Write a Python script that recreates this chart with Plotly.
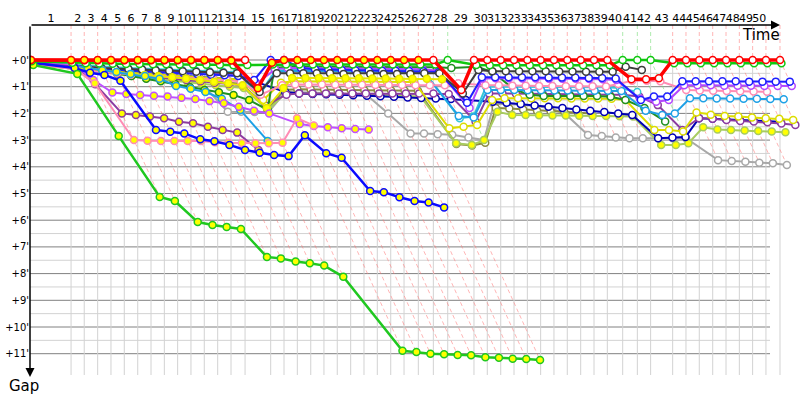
import plotly.graph_objects as go

# ---------------- data ----------------
# leader's cumulative race time (minutes) at the end of each lap 0..51
leader_time = [0.00, 3.31, 4.40, 5.51, 6.61, 7.71, 8.82, 9.92, 11.02, 12.12, 13.22, 14.32, 15.43, 16.53,
               17.69, 19.81, 20.91, 22.01, 23.12, 24.21, 25.31, 26.42, 27.52, 28.62, 29.73, 30.83, 32.01,
               33.25, 34.44, 36.61, 37.71, 38.82, 39.92, 41.02, 42.12, 43.22, 44.32, 45.43, 46.53, 47.63,
               48.90, 50.11, 51.21, 53.03, 54.13, 55.23, 56.34, 57.44, 58.54, 59.64, 60.74, 61.90]
lap_labels = [str(i) for i in range(1, 51)]
gap_ticks = [0, 1, 2, 3, 4, 5, 6, 7, 8, 9, 10, 11]
gap_tick_text = ["+0'", "+1'", "+2'", "+3'", "+4'", "+5'", "+6'", "+7'", "+8'", "+9'", "+10'", "+11'"]
N = None

# gaps (minutes) behind the leader, laps 0..51
gap_red = [0, 0,0,0,0,0,0,0,0,0,0,0,0,0.02, 1.06, 0.1, 0,0,0,0,0,0,0,0,0,0,0,0, 1.12,
           0,0,0,0,0,0,0,0,0,0,0, 0.72,0.72,0.68, 0,0,0,0,0,0,0,0,0]
gap_red2 = [0, 0.01,0.01,0.01,0.01,0.01,0.01,0.01,0.01,0.01,0.01,0.01,0.01,0, 0] + [N]*37
gap_green = [0.05, 0.1,0.12,0.13,0.14,0.15,0.15,0.16,0.16,0.17,0.17,0.18,0.18,0.2, 0.19, 0.17,
             0.17,0.17,0.17,0.17,0.17,0.17,0.17,0.17,0.17,0.17,0.17,0.17, 0, 0.19,
             0.2,0.2,0.2,0.2,0.2,0.2,0.2,0.2,0.2,0.2, 0,0,0, 0.12,0.12,0.12,0.12,0.12,0.12,0.12,0.12,0.12]
gap_black = [0.1, 0.2,0.25,0.3,0.32,0.34,0.36,0.38,0.4,0.42,0.44,0.46,0.48,0.5, 1.2, 0.5,
             0.5,0.5,0.5,0.5,0.52,0.52,0.52,0.52,0.52,0.52,0.5,0.5, 1.25, 0.37,
             0.42,0.42,0.42,0.42,0.42,0.43,0.43,0.44,0.44,0.44, 0.25, 0.37] + [N]*10
gap_blue = [0.1, 0.25,0.3,0.33,0.36,0.4,0.42,0.45,0.47,0.5,0.52,0.55,0.57,0.6, 0.75, 0, 0,
            0.3,0.35,0.36,0.37,0.38,0.39,0.4,0.4,0.41,0.42,0.45, 1.6, 0.65,
            0.65,0.65,0.65,0.65,0.66,0.66,0.66,0.67,0.67,0.69, 1.5,1.37,1.37, 0.8,
            0.8,0.8,0.8,0.8,0.81,0.81,0.81,0.81]
gap_violet = [0.1, 0.2,0.25,0.3,0.33,0.36,0.38,0.4,0.42,0.44,0.46,0.48,0.5,0.52, 0.9, 0.35,
              0.3,0.3,0.3,0.31,0.31,0.32,0.32,0.33,0.33,0.34,0.35,0.4, 1.8, 0.69,
              0.68,0.68,0.69,0.69,0.7,0.7,0.7,0.71,0.72,0.75, 1.45,1.56,1.5, 0.95,
              0.95,0.95,0.96,0.96,0.96,0.97,0.97,0.97]
gap_pink = [0.15, 0.35,0.4,0.45,0.5,0.55,0.58,0.6,0.63,0.66,0.7,0.72,0.75,0.8, 1.3, 0.95,
            0.92,0.92,0.92,0.93,0.93,0.93,0.94,0.94,0.94,0.95,0.95,0.95, 0.87, 0.95,
            0.95,0.96,0.96,0.97,0.97,0.98,0.98,0.98,0.99,0.9, 0.78,0.78,0.8,
            1.12,1.14,1.15,1.16,1.17,1.18,1.19, N, N]
gap_lightblue = [0.1, 0.22,0.27,0.3,0.33,0.36,0.39,0.42,0.45,0.48,0.5,0.53,0.55,0.58, 1.25, 0.45,
                 0.4,0.4,0.41,0.41,0.42,0.42,0.43,0.43,0.44,0.44,0.45, 2.1,2.15, 1.12,
                 1.12,1.12,1.13,1.13,1.14,1.14,1.15,1.15,1.15,1.16, 1.9,2.06,2.0, 1.43,
                 1.43,1.44,1.44,1.45,1.45,1.46,1.47, N]
gap_cyan = [0.08, 0.18,0.22,0.25,0.28,0.3,0.32,0.34,0.36,0.38,0.4,0.42,0.44,0.46, 1.24, 0.4,
            0.37,0.37,0.37,0.37,0.38,0.38,0.38,0.38,0.39,0.39,0.4, 2.18,2.12, 1.0,
            1.0,1.0,1.0,1.01,1.01,1.01,1.02,1.02,1.02,1.05, 1.2] + [N]*11
gap_yellow = [0.12, 0.3,0.35,0.4,0.44,0.48,0.52,0.55,0.58,0.61,0.64,0.67,0.7,0.73, 1.5, 0.85,
              0.8,0.8,0.8,0.8,0.81,0.81,0.81,0.81,0.82,0.82, 2.56,2.5,2.43, 1.5,
              1.43,1.43,1.43,1.43,1.43,1.44,1.44,1.44,1.45,1.5, 2.62,2.62,2.68, 1.97,
              2.05,2.1,2.12,2.15,2.18,2.2,2.25, N]
gap_purple = [0.15, 0.3,0.38,0.45,0.5,0.55,0.6,0.65,0.7,0.75,0.8,0.85,0.9,0.95, 1.7, 1.3,
              1.25,1.25,1.25,1.25,1.25,1.25,1.25,1.25,1.25,1.25,1.25, 1.27, 2.3, 1.25,
              1.25,1.26,1.26,1.27,1.27,1.28,1.28,1.29,1.3,1.3, 1.37,1.69,2.62,2.18,
              2.2,2.25,2.28,2.3,2.33,2.38,2.43, N]
gap_navy = [0.1, 0.25,0.3,0.35,0.4,0.45,0.5,0.53,0.56,0.6,0.63,0.66,0.7,0.73, 0.8, 1.2,
            1.25,1.27,1.28,1.3,1.32,1.34,1.36,1.38,1.4,1.42,1.44,1.46,1.5, 1.56,
            1.6,1.65,1.7,1.75,1.8,1.85,1.9,1.95,2.0,2.06, 2.93,2.9,2.88, 2.18,
            2.2,2.22,2.25,2.27,2.29,2.31, N, N]
gap_ygreen = [0.15, 0.35,0.42,0.48,0.54,0.6,0.66,0.72,0.78,0.84,0.9,0.95,1.0,1.05, 1.87, 1.25,
              1.25,1.26,1.27,1.28,1.3,1.31,1.32,1.33,1.35,1.37, 3.12,3.18,3.0, 1.94,
              2.06,2.06,2.07,2.08,2.08,2.09,2.1,2.1,2.11,2.12, 3.18,3.18,3.12, 2.52,
              2.6,2.62,2.64,2.66,2.68,2.71, N, N]
gap_gray = [0.15, 0.35,0.4,0.45,0.5,0.55,0.6,0.65,0.7,0.8,0.87,1.94,1.94,1.95, 1.95, 1.2,
            1.2,1.22,1.24,1.26,1.28,1.3, 2.0, 2.75,2.75,2.78,2.8,2.9,3.0, 1.65,
            1.65,1.68,1.72,1.8,2.0, 2.81,2.85,2.9,2.93,2.93,2.93,2.93,2.93,
            3.75,3.78,3.81,3.85,3.87,3.93, N, N, N]
gap_olive = [0.12, 0.3,0.35,0.4,0.45,0.5,0.55,0.6,0.65,0.7,0.75,0.8,0.85,0.9, 1.87, 1.12,
             1.1,1.1,1.1,1.12,1.12,1.13,1.13,1.14,1.14,1.15, 3.15,3.2,3.1, 1.8,
             1.82,1.85,1.9,1.92,1.95,1.97,2.0] + [N]*15
gap_dkgreen = [0.1, 0.2,0.3,0.4,0.5,0.6,0.7,0.8,0.9,1.02,1.12,1.21,1.31,1.5, 1.87, 0.3,
               0.25,0.25,0.25,0.25,0.25,0.25,0.26,0.26,0.26,0.26,0.27,0.27, 0.3, 0.25,
               0.45,1.1,1.3,1.35,1.35,1.35,1.35,1.35,1.38,1.5, 1.8,2.3] + [N]*10
gap_yyellow = [0.1, 0.25,0.3,0.38,0.45,0.52,0.56,0.6,0.65,0.69,0.75,0.81,0.87,0.95, 1.8, 1.05,
               0.67,0.67,0.67,0.68,0.68,0.68,0.69,0.69,0.7,0.7,0.7,0.72] + [N]*24
gap_lapped = [0.19, 0.52,2.85,5.13,5.28,6.07,6.18,6.25,6.33,7.38,7.43,7.55,7.61,7.70, 8.12,
              10.89,10.94,11.0,11.02,11.05,11.06,11.13,11.15,11.19,11.2,11.24] + [N]*26
gap_blue2 = [0.1, 0.3,0.48,0.56,0.78,2.62,2.69,2.75,2.97,3.04,3.18,3.37,3.47,3.56, 3.6, 2.82,
             3.49,3.66,4.91,4.95,5.14,5.28,5.34,5.52] + [N]*28
gap_pink2 = [0.15, 0.34,0.87,3.0,3.02,3.03,3.03,3.03,3.03,3.08,3.1,3.11,3.12,3.12, 3.1, 2.18,
             2.45] + [N]*35
gap_purple2 = [0.1, 0.25,0.91,2.0,2.06,2.12,2.18,2.31,2.37,2.5,2.62,2.72,3.37] + [N]*39
gap_violet2 = [0.1, 0.2,0.75,1.22,1.27,1.31,1.34,1.37,1.41,1.46,1.54,1.62,1.75,1.9, 2.0, 2.4,
               2.47,2.52,2.56,2.58,2.6] + [N]*31
gap_lightblue2 = [0.08, 0.2,0.3,0.38,0.45,0.52,0.6,0.7,0.97,1.08,1.2,1.45,1.87,3.03] + [N]*38

# ---------------- styling ----------------
# (gaps, line colour, line width, last lap with yellow-filled marker)
series = [
    (gap_gray, "#a8a8a8", 2, -1),
    (gap_olive, "#8c8c40", 2, -1),
    (gap_ygreen, "#a8cc60", 2, 99),
    (gap_navy, "#0000b4", 2, -1),
    (gap_purple, "#8c3ca0", 2, -1),
    (gap_yellow, "#dcdc00", 2, -1),
    (gap_dkgreen, "#209020", 2, 14),
    (gap_cyan, "#38c8d4", 2, -1),
    (gap_lightblue, "#1ea0e6", 2, -1),
    (gap_pink, "#ff8cb4", 2, -1),
    (gap_violet, "#b446ff", 2, -1),
    (gap_blue, "#1e1eff", 2, -1),
    (gap_black, "#3c3c3c", 2, -1),
    (gap_yyellow, "#e6e600", 2, 99),
    (gap_lightblue2, "#1ea0e6", 2, 99),
    (gap_violet2, "#c050ff", 2, 99),
    (gap_purple2, "#8c3ca0", 2, 99),
    (gap_pink2, "#ff8cb4", 2, 99),
    (gap_blue2, "#0a0aff", 2.5, 99),
    (gap_lapped, "#20c820", 2.5, 99),
    (gap_green, "#10c810", 2.5, -1),
    (gap_red2, "#ff0000", 3, -1),
    (gap_red, "#ff0000", 3.5, 26),
]

PXX = 12.1   # px per minute horizontally
PXY = 26.7   # px per minute vertically
x0_px, y0_px = 31, 60
xr = [(30 - x0_px) / PXX, (800 - x0_px) / PXX]
yr = [(400 - y0_px) / PXY, (25 - y0_px) / PXY]
x_grid_end = (770 - x0_px) / PXX
y_grid_end = (375 - y0_px) / PXY

fig = go.Figure()
shapes = []
for k in range(0, 11):
    shapes.append(dict(type="line", xref="x", yref="y", x0=xr[0], x1=x_grid_end, y0=k + 0.5, y1=k + 0.5,
                       line=dict(color="#d2d2d2", width=1), layer="below"))
for k in range(0, 12):
    shapes.append(dict(type="line", xref="x", yref="y", x0=xr[0], x1=x_grid_end, y0=k, y1=k,
                       line=dict(color="#808080", width=1), layer="below"))
for t in leader_time[1:]:
    shapes.append(dict(type="line", xref="x", yref="y", x0=t, x1=t, y0=0, y1=y_grid_end,
                       line=dict(color="#d2d2d2", width=1), layer="below"))


def leader_and_last(n):
    vals = [(s[0][n], s[1]) for s in series if n < len(s[0]) and s[0][n] is not None]
    lead = min(vals, key=lambda v: v[0])
    last = max(v[0] for v in vals)
    return lead[1], last


for n in range(1, len(leader_time)):
    lead_col, last = leader_and_last(n)
    t = leader_time[n]
    col = "rgba(120,220,120,0.6)" if lead_col == "#10c810" else "rgba(255,120,120,0.55)"
    fig.add_trace(go.Scatter(x=[t, t, t + last], y=[yr[1], 0, last], mode="lines",
                             line=dict(color=col, width=1, dash="4px,3px"), hoverinfo="skip",
                             showlegend=False))

for gaps, color, width, ylast in series:
    xs, ys, fills = [], [], []
    for n, g in enumerate(gaps):
        if g is None:
            continue
        xs.append(leader_time[n] + g)
        ys.append(g)
        fills.append("#ffff00" if n <= ylast else "#ffffff")
    fig.add_trace(go.Scatter(x=xs, y=ys, mode="lines+markers",
                             line=dict(color=color, width=width),
                             marker=dict(size=7, color=fills, line=dict(color=color, width=1.5)),
                             showlegend=False, hoverinfo="skip"))

label_pos = [(leader_time[i] + leader_time[i + 1]) / 2 for i in range(50)]

fig.update_layout(
    width=800, height=400, margin=dict(l=30, r=0, t=25, b=0, autoexpand=False),
    paper_bgcolor="white", plot_bgcolor="white", shapes=shapes,
    xaxis=dict(range=xr, side="top", showgrid=False, zeroline=False, showline=False, automargin=False,
               tickmode="array", tickvals=label_pos, ticktext=lap_labels, ticks="", tickangle=0,
               tickfont=dict(family="DejaVu Sans", size=11, color="black")),
    yaxis=dict(range=yr, showgrid=False, zeroline=False, showline=False, automargin=False,
               tickmode="array", tickvals=gap_ticks, ticktext=gap_tick_text, ticks="",
               tickfont=dict(family="DejaVu Sans", size=10, color="black")),
    annotations=[
        dict(x=(780 - x0_px) / PXX, y=yr[1], ax=xr[0], ay=yr[1], xref="x", yref="y", axref="x", ayref="y",
             showarrow=True, arrowhead=2, arrowsize=1.2, arrowwidth=1.5, arrowcolor="black", text=""),
        dict(x=xr[0], y=(377 - y0_px) / PXY, ax=xr[0], ay=yr[1], xref="x", yref="y", axref="x", ayref="y",
             showarrow=True, arrowhead=2, arrowsize=1.2, arrowwidth=1.5, arrowcolor="black", text=""),
        dict(x=(761 - x0_px) / PXX, y=(35 - y0_px) / PXY, xref="x", yref="y", text="Time", showarrow=False,
             xanchor="center", yanchor="middle",
             font=dict(family="DejaVu Sans", size=15, color="black")),
        dict(x=(24 - 30) / 770, y=(400 - 386) / 375, xref="paper", yref="paper", text="Gap", showarrow=False,
             xanchor="center", yanchor="middle",
             font=dict(family="DejaVu Sans", size=15, color="black")),
    ],
)
fig.write_html("out.html", config={"displayModeBar": False},
               post_script="document.body.style.margin='0';document.body.style.overflow='hidden';")
